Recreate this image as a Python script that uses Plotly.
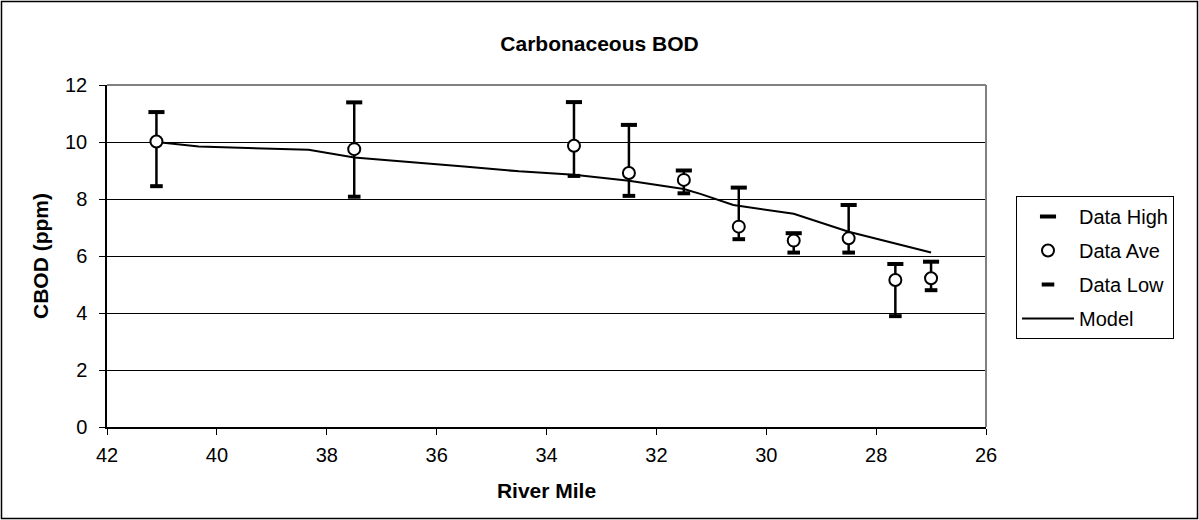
import plotly.graph_objects as go

# ---- data ----
river_mile = [41.1, 37.5, 33.5, 32.5, 31.5, 30.5, 29.5, 28.5, 27.65, 27.0]
data_ave = [10.02, 9.75, 9.87, 8.91, 8.67, 7.03, 6.54, 6.62, 5.16, 5.22]
data_high = [11.05, 11.39, 11.40, 10.60, 9.00, 8.40, 6.80, 7.79, 5.72, 5.80]
data_low = [8.45, 8.08, 8.81, 8.11, 8.20, 6.59, 6.12, 6.12, 3.89, 4.80]

model_mile = [41.1, 40.33, 38.33, 37.5, 35.5, 34.5, 33.5, 32.5, 31.5, 31.2, 30.6, 29.5, 28.5, 27.0]
model_cbod = [10.0, 9.84, 9.73, 9.46, 9.14, 8.97, 8.85, 8.64, 8.35, 8.18, 7.79, 7.48, 6.85, 6.12]

x_ticks = [42, 40, 38, 36, 34, 32, 30, 28, 26]
y_ticks = [0, 2, 4, 6, 8, 10, 12]

FONT = "Liberation Sans, Arial, sans-serif"
W, H = 1199, 520
ML, MR, MT, MB = 107, 213, 85, 93
PW, PH = W - ML - MR, H - MT - MB


def px_x(p):
    return (p - ML) / PW


def px_y(p):
    return (H - MB - p) / PH


err_plus = [h - a for h, a in zip(data_high, data_ave)]
err_minus = [a - l for a, l in zip(data_ave, data_low)]

fig = go.Figure()

fig.add_trace(go.Scatter(
    x=model_mile, y=model_cbod, mode="lines", name="Model",
    line=dict(color="black", width=2), legendrank=4, legendgroup="m",
))
fig.add_trace(go.Scatter(
    x=river_mile, y=data_ave, mode="markers", name="Data Ave",
    marker=dict(symbol="circle", size=12, color="white", line=dict(color="black", width=2)),
    error_y=dict(type="data", symmetric=False, array=err_plus, arrayminus=err_minus,
                 width=0, thickness=2.5, color="black"),
    legendrank=2, legendgroup="a",
))
fig.add_trace(go.Scatter(
    x=river_mile, y=data_high, mode="markers", name="Data High",
    marker=dict(symbol="line-ew", size=11.5, color="black", line=dict(color="black", width=4)),
    legendrank=1, legendgroup="h",
))
fig.add_trace(go.Scatter(
    x=river_mile, y=data_low, mode="markers", name="Data Low",
    marker=dict(symbol="line-ew", size=9, color="black", line=dict(color="black", width=4)),
    legendrank=3, legendgroup="l",
))

shapes = [
    # plot-area top and right border (gray)
    dict(type="line", xref="paper", yref="paper", x0=0, x1=1, y0=1, y1=1,
         line=dict(color="#808080", width=2), layer="above"),
    dict(type="line", xref="paper", yref="paper", x0=1, x1=1, y0=0, y1=1,
         line=dict(color="#808080", width=2), layer="above"),
    # outer chart border
    dict(type="rect", xref="paper", yref="paper",
         x0=px_x(1.5), x1=px_x(W - 1.5), y0=px_y(H - 1.5), y1=px_y(1.5),
         line=dict(color="black", width=1.5), layer="below"),
]

fig.update_layout(
    width=W, height=H,
    margin=dict(l=ML, r=MR, t=MT, b=MB, autoexpand=False),
    paper_bgcolor="white", plot_bgcolor="white",
    font=dict(family=FONT, size=20, color="black"),
    title=dict(text="Carbonaceous BOD", x=0.5, xref="container", xanchor="center",
               y=1 - 43.8 / H, yref="container", yanchor="middle",
               font=dict(family=FONT, size=21, color="black", weight="bold")),
    xaxis=dict(
        range=[42, 26], tickvals=x_ticks, ticktext=[str(v) for v in x_ticks],
        showgrid=False, zeroline=False,
        showline=True, linecolor="black", linewidth=1.5,
        ticks="outside", ticklen=6, tickwidth=1, tickcolor="black",
        ticklabelstandoff=3,
        tickfont=dict(family=FONT, size=20, color="black"),
        title=dict(text="River Mile", standoff=19,
                   font=dict(family=FONT, size=21, color="black", weight="bold")),
    ),
    yaxis=dict(
        range=[0, 12], tickvals=y_ticks, ticktext=[str(v) for v in y_ticks],
        showgrid=True, gridcolor="black", gridwidth=1, zeroline=False,
        showline=True, linecolor="black", linewidth=1.5,
        ticks="outside", ticklen=6, tickwidth=1, tickcolor="black",
        ticklabelstandoff=8,
        tickfont=dict(family=FONT, size=20, color="black"),
        title=dict(text="CBOD (ppm)", standoff=11,
                   font=dict(family=FONT, size=21, color="black", weight="bold")),
    ),
    legend=dict(
        x=px_x(1016), y=px_y(196), xanchor="left", yanchor="top",
        bgcolor="white", bordercolor="black", borderwidth=1,
        font=dict(family=FONT, size=20, color="black"),
        tracegroupgap=5, traceorder="grouped", itemwidth=52,
    ),
    shapes=shapes,
    showlegend=True,
)

fig.write_html(
    "out.html",
    config={"displayModeBar": False},
    post_script="document.body.style.margin='0px';document.body.style.overflow='hidden';",
)
